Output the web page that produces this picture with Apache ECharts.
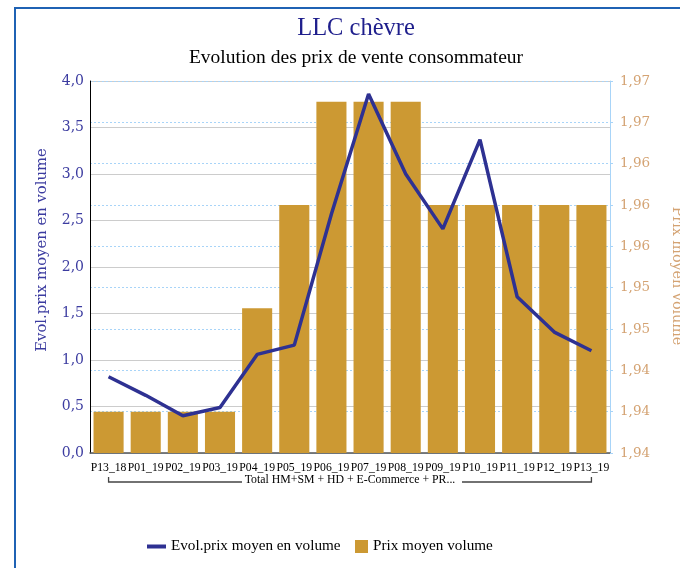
<!DOCTYPE html>
<html>
<head>
<meta charset="utf-8">
<script src="https://cdn.jsdelivr.net/npm/echarts@6/dist/echarts.min.js"></script>
<style>
html,body{margin:0;padding:0;background:#fff;}
#c{width:680px;height:568px;}
</style>
</head>
<body>
<div id="c"></div>
<script>
// ---- data ----
const categories = ['P13_18','P01_19','P02_19','P03_19','P04_19','P05_19','P06_19','P07_19','P08_19','P09_19','P10_19','P11_19','P12_19','P13_19'];
const groupLabel = 'Total HM+SM + HD + E-Commerce + PR...';
const evolPrix = [0.82, 0.62, 0.40, 0.49, 1.06, 1.16, 2.57, 3.86, 3.00, 2.41, 3.37, 1.68, 1.30, 1.10];
const prixMoyen = [1.9414, 1.9414, 1.9414, 1.9414, 1.9499, 1.9584, 1.9669, 1.9669, 1.9669, 1.9584, 1.9584, 1.9584, 1.9584, 1.9584];
const leftTicks = ['0,0','0,5','1,0','1,5','2,0','2,5','3,0','3,5','4,0'];
const rightTicks = ['1,94','1,94','1,94','1,95','1,95','1,96','1,96','1,96','1,97','1,97'];
const seriesNames = ['Evol.prix moyen en volume', 'Prix moyen volume'];
const titleText = 'LLC chèvre';
const subtitleText = 'Evolution des prix de vente consommateur';

const RMIN = 1.938, RINT = 0.0034, RMAX = 1.938 + 9 * 0.0034;

const chart = echarts.init(document.getElementById('c'), null, {renderer: 'canvas'});
const serif = 'Liberation Serif';
const serif2 = 'DejaVu Serif';
const option = {
  animation: false,
  backgroundColor: '#ffffff',
  title: [
    {text: titleText, left: 351, top: 11, textAlign: 'center', textStyle: {fontFamily: serif, fontSize: 24.5, fontWeight: 'normal', color: '#1e1e8c'}},
    {text: subtitleText, left: 351, top: 43, textAlign: 'center', textStyle: {fontFamily: serif, fontSize: 19.5, fontWeight: 'normal', color: '#000'}}
  ],
  grid: {left: 90, right: 70, top: 81, bottom: 115, containLabel: false},
  legend: [
    {data: [{name: seriesNames[0]}], left: 142, top: 534, itemWidth: 19, itemHeight: 4, icon: 'rect',
     textStyle: {fontFamily: serif, fontSize: 15.2, color: '#000'}},
    {data: [{name: seriesNames[1]}], left: 350, top: 534, itemWidth: 13, itemHeight: 13, icon: 'rect',
     textStyle: {fontFamily: serif, fontSize: 15.2, color: '#000'}}
  ],
  xAxis: {
    type: 'category', data: categories,
    axisLine: {lineStyle: {color: '#555', width: 1.5}},
    axisTick: {show: false},
    axisLabel: {interval: 0, margin: 9, fontFamily: serif, fontSize: 11.7, color: '#000'}
  },
  yAxis: [
    {type: 'value', min: 0, max: 4, interval: 0.5, position: 'left',
     axisLine: {show: true, lineStyle: {color: '#000'}},
     axisTick: {show: false},
     splitLine: {lineStyle: {color: '#cccccc', width: 1.2}},
     axisLabel: {margin: 6, fontFamily: serif2, fontSize: 14, color: '#3c3ca0',
       formatter: function(v){ return leftTicks[Math.round(v / 0.5)]; }}},
    {type: 'value', min: RMIN, max: RMAX, interval: RINT, position: 'right',
     axisLine: {show: true, lineStyle: {color: '#a8d4f8'}},
     axisTick: {show: true, length: 3, inside: false, lineStyle: {color: '#a8d4f8'}},
     splitLine: {show: true, lineStyle: {color: '#a8d4f8', type: [2, 2], width: 1}},
     axisLabel: {margin: 10, fontFamily: serif2, fontSize: 13.5, color: '#d4a373',
       formatter: function(v){ return rightTicks[Math.round((v - RMIN) / RINT)]; }}}
  ],
  series: [
    {name: seriesNames[1], type: 'bar', yAxisIndex: 1, data: prixMoyen, barCategoryGap: '19%',
     itemStyle: {color: '#cc9933'}, z: 2},
    {name: seriesNames[0], type: 'line', yAxisIndex: 0, data: evolPrix, symbol: 'none',
     lineStyle: {color: '#2e3192', width: 3.5}, itemStyle: {color: '#2e3192'}, z: 3}
  ]
};
chart.setOption(option);

// decorations: frame, axis names, group bracket (derived from axis positions)
const p0 = chart.convertToPixel({xAxisIndex: 0}, categories[0]);
const p1 = chart.convertToPixel({xAxisIndex: 0}, categories[categories.length - 1]);
const yb = chart.convertToPixel({yAxisIndex: 0}, 0);
const yt = chart.convertToPixel({yAxisIndex: 0}, 4);
const mid = (p0 + p1) / 2;
const bracketY = yb + 29;
const textHalf = 108;
chart.setOption({
  graphic: [
    {type: 'rect', shape: {x: 15, y: 8, width: 700, height: 620}, style: {fill: 'none', stroke: '#1f62b4', lineWidth: 2}, silent: true},
    {type: 'text', x: 42, y: (yb + yt) / 2 - 17, rotation: Math.PI / 2,
     style: {text: 'Evol.prix moyen en volume', fill: '#3c3ca0', font: '14.8px "DejaVu Serif"', align: 'center', verticalAlign: 'middle'}},
    {type: 'text', x: 677, y: (yb + yt) / 2 + 9, rotation: -Math.PI / 2,
     style: {text: 'Prix moyen volume', fill: '#d4a373', font: '14.3px "DejaVu Serif"', align: 'center', verticalAlign: 'middle'}},
    {type: 'polyline', shape: {points: [[p0, bracketY - 5], [p0, bracketY], [mid - textHalf, bracketY]]}, style: {stroke: '#444', lineWidth: 1.3, fill: 'none'}},
    {type: 'polyline', shape: {points: [[mid + textHalf + 4, bracketY], [p1, bracketY], [p1, bracketY - 5]]}, style: {stroke: '#444', lineWidth: 1.3, fill: 'none'}},
    {type: 'text', x: mid, y: bracketY - 2, style: {text: groupLabel, fill: '#000', font: '11.8px "Liberation Serif"', align: 'center', verticalAlign: 'middle'}}
  ]
});
</script>
</body>
</html>
